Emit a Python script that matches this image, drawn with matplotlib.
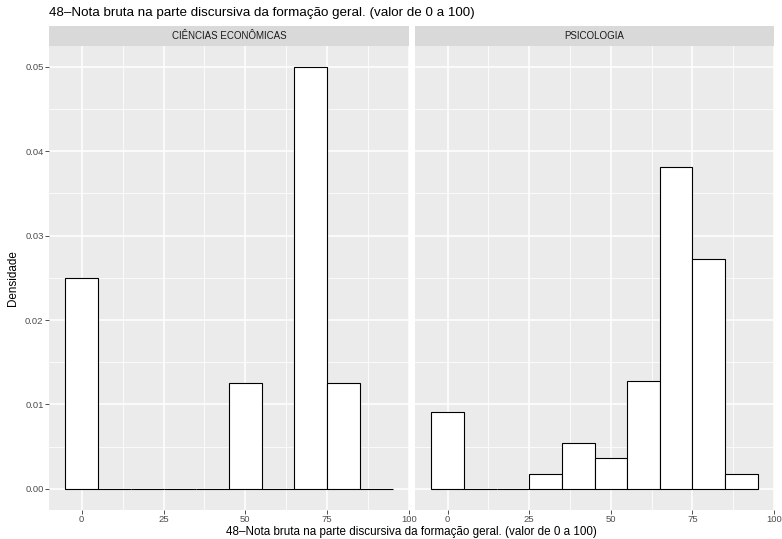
import matplotlib
matplotlib.use("Agg")
import matplotlib.pyplot as plt
import numpy as np

plt.rcParams['font.family'] = ['Liberation Sans', 'DejaVu Sans']

title = "48\u2013Nota bruta na parte discursiva da formação geral. (valor de 0 a 100)"
xlabel = "48\u2013Nota bruta na parte discursiva da formação geral. (valor de 0 a 100)"
ylabel = "Densidade"
panels = ["CIÊNCIAS ECONÔMICAS", "PSICOLOGIA"]
bin_centers = [0, 10, 20, 30, 40, 50, 60, 70, 80, 90]
bin_width = 10
dens_econ = [0.025, 0, 0, 0, 0, 0.0125, 0, 0.05, 0.0125, 0]
dens_psic = [0.00909, 0, 0, 0.00182, 0.00545, 0.00364, 0.01273, 0.03818, 0.02727, 0.00182]
series = [dens_econ, dens_psic]
xticks = [0, 25, 50, 75, 100]
yticks = [0.00, 0.01, 0.02, 0.03, 0.04, 0.05]

W, H = 782, 539
fig = plt.figure(figsize=(W/100, H/100), dpi=100)

panel_x = [(49, 409), (415, 774)]
ptop, pbot = 45.7, 510
stop = 26

grid_col = 'white'
bg = '#EBEBEB'
for i, (x0, x1) in enumerate(panel_x):
    ax = fig.add_axes([x0/W, (H-pbot)/H, (x1-x0)/W, (pbot-ptop)/H])
    ax.set_facecolor(bg)
    for s in ax.spines.values():
        s.set_visible(False)
    ax.set_xlim(-10, 100)
    ax.set_ylim(-0.0025, 0.0525)
    ax.set_xticks(xticks)
    ax.set_xticks([12.5, 37.5, 62.5, 87.5], minor=True)
    ax.set_yticks(yticks)
    ax.set_yticks([0.005, 0.015, 0.025, 0.035, 0.045], minor=True)
    ax.grid(True, which='major', color=grid_col, linewidth=1.1)
    ax.grid(True, which='minor', color=grid_col, linewidth=0.55)
    ax.set_axisbelow(True)
    ax.tick_params(which='major', length=2.7, width=0.6, color='#333333',
                   labelsize=6.8, labelcolor='#4D4D4D', pad=1.2)
    ax.tick_params(which='minor', length=0)
    ax.set_xticklabels([str(t) for t in xticks])
    if i == 0:
        ax.set_yticklabels(["%.2f" % t for t in yticks])
    else:
        ax.tick_params(axis='y', which='major', length=0, labelleft=False)
    ax.bar(bin_centers, series[i], width=bin_width, color='white',
           edgecolor='black', linewidth=0.8)
    # strip
    sax = fig.add_axes([x0/W, (H-ptop)/H, (x1-x0)/W, (ptop-stop)/H])
    sax.set_facecolor('#D9D9D9')
    sax.set_xticks([]); sax.set_yticks([])
    for s in sax.spines.values():
        s.set_visible(False)
    sax.text(0.5, 0.5, panels[i], ha='center', va='center', fontsize=7.0,
             color='#1A1A1A', transform=sax.transAxes)

fig.text(49/W, 1 - 13/H, title, ha='left', va='center', fontsize=9.6, color='black')
fig.text((49+774)/2/W, 1 - 535.5/H, xlabel, ha='center', va='baseline', fontsize=8.4, color='black')
fig.text(13/W, 1 - ((ptop+pbot)/2)/H, ylabel, ha='center', va='center', rotation=90,
         fontsize=8.4, color='black')

fig.savefig('out.png', dpi=100)
